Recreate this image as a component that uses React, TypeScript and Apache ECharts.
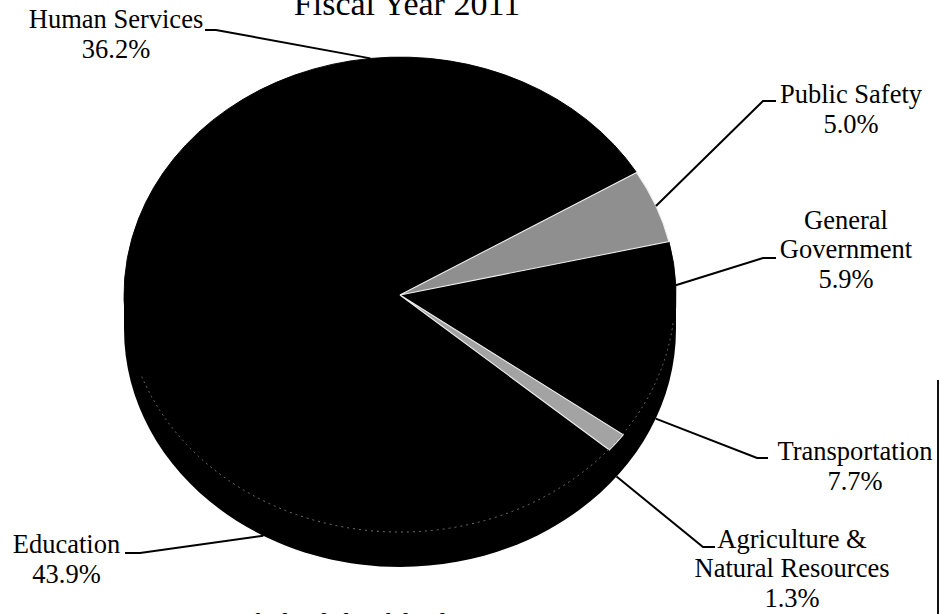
import React, { useEffect, useRef } from 'react';
import * as echarts from 'echarts';

// ---- data ----
const categories = [
  'Human Services',
  'Public Safety',
  'General Government',
  'Transportation',
  'Agriculture & Natural Resources',
  'Education',
];
const labelNames = [
  'Human Services',
  'Public Safety',
  'General\nGovernment',
  'Transportation',
  'Agriculture &\nNatural Resources',
  'Education',
];
const shares = [36.2, 5.0, 5.9, 7.7, 1.3, 43.9];
const titleText = 'Fiscal Year 2011';
const footnoteText = '*Excludes federal funds';

// ---- styles / layout ----
const sliceColors = ['#000000', '#8f8f8f', '#000000', '#000000', '#a3a3a3', '#000000'];
const FONT = "'Liberation Serif', 'Times New Roman', serif";
const CX = 400;
const CY = 295;
const RX = 276;
const RY = 238;
const DEPTH = 34;
const START_ANGLE = 161.3; // degrees, maths convention, slices run clockwise
// label block centre (x, y), elbow of the leader (ex, ey), start of the short stub (sx)
const labelLayout = [
  { x: 116, y: 34, ex: 216, ey: 30, sx: 205 },
  { x: 851, y: 109, ex: 763, ey: 101, sx: 776 },
  { x: 846, y: 249, ex: 763, ey: 258, sx: 776 },
  { x: 855, y: 466, ex: 757, ey: 458, sx: 768 },
  { x: 792, y: 568, ex: 703, ey: 547, sx: 715 },
  { x: 66.5, y: 559, ex: 140, ey: 553, sx: 125 },
];

export default function App() {
  const ref = useRef<HTMLDivElement>(null);

  useEffect(() => {
    document.body.style.margin = '0';
    if (!ref.current) return;
    const chart = echarts.init(ref.current, undefined, { renderer: 'svg' });
    const total = shares.reduce((a, b) => a + b, 0);

    const option: any = {
      animation: false,
      backgroundColor: '#ffffff',
      tooltip: { show: false },
      graphic: [
        {
          type: 'text',
          x: 407,
          y: 3.5,
          style: {
            text: titleText,
            fontFamily: FONT,
            fontSize: 34,
            fill: '#000',
            align: 'center',
            verticalAlign: 'middle',
          },
        },
        {
          type: 'ellipse',
          shape: { cx: CX, cy: CY + DEPTH, rx: RX, ry: RY },
          style: { fill: '#000' },
        },
        {
          type: 'rect',
          shape: { x: CX - RX, y: CY, width: 2 * RX, height: DEPTH },
          style: { fill: '#000' },
        },
        {
          type: 'arc',
          x: CX,
          y: CY,
          scaleY: RY / RX,
          z: 100,
          shape: { cx: 0, cy: 0, r: RX - 1, startAngle: 0.12, endAngle: Math.PI - 0.35, clockwise: true },
          style: { stroke: '#7a7a7a', lineWidth: 1, lineDash: [2, 4], fill: null },
        },
        {
          type: 'text',
          x: 200,
          y: 623,
          style: {
            text: footnoteText,
            fontFamily: FONT,
            fontStyle: 'italic',
            fontSize: 26.5,
            fill: '#000',
            align: 'left',
            verticalAlign: 'middle',
          },
        },
        {
          type: 'line',
          shape: { x1: 938, y1: 380, x2: 938, y2: 614 },
          style: { stroke: '#111', lineWidth: 2 },
        },
      ],
      series: [
        {
          type: 'custom',
          coordinateSystem: 'none',
          silent: true,
          data: shares.map((v, i) => ({ name: categories[i], value: v })),
          renderItem: (params: any, api: any) => {
            const i = params.dataIndex;
            const v = api.value(0) as number;
            let before = 0;
            for (let j = 0; j < i; j++) before += shares[j];
            const a0 = START_ANGLE - (before / total) * 360;
            const a1 = a0 - (v / total) * 360;
            const mid = ((a0 + a1) / 2) * (Math.PI / 180);
            const s = (-a0 * Math.PI) / 180;
            const e = (-a1 * Math.PI) / 180;
            let px = CX + RX * Math.cos(mid);
            let py = CY - RY * Math.sin(mid);
            if (Math.sin(mid) < 0) py += DEPTH;
            const L = labelLayout[i];
            const gray = sliceColors[i] !== '#000000';
            return {
              type: 'group',
              children: [
                {
                  type: 'sector',
                  x: CX,
                  y: CY,
                  scaleY: RY / RX,
                  shape: { cx: 0, cy: 0, r: RX, r0: 0, startAngle: s, endAngle: e, clockwise: true },
                  style: {
                    fill: sliceColors[i],
                    stroke: gray ? '#eeeeee' : '#000000',
                    lineWidth: gray ? 1.2 : 1,
                  },
                  z2: gray ? 2 : 1,
                },
                {
                  type: 'polyline',
                  shape: { points: [[L.sx, L.ey], [L.ex, L.ey], [px, py]] },
                  style: { stroke: '#000', lineWidth: 2, fill: null },
                  z2: 10,
                },
                {
                  type: 'text',
                  x: L.x,
                  y: L.y,
                  style: {
                    text: labelNames[i] + '\n' + v.toFixed(1) + '%',
                    fontFamily: FONT,
                    fontSize: 26.5,
                    lineHeight: 29.5,
                    fill: '#000',
                    align: 'center',
                    verticalAlign: 'middle',
                  },
                  z2: 11,
                },
              ],
            };
          },
        },
      ],
    };

    chart.setOption(option);
    return () => chart.dispose();
  }, []);

  return <div ref={ref} style={{ width: 941, height: 614, background: '#fff' }} />;
}
